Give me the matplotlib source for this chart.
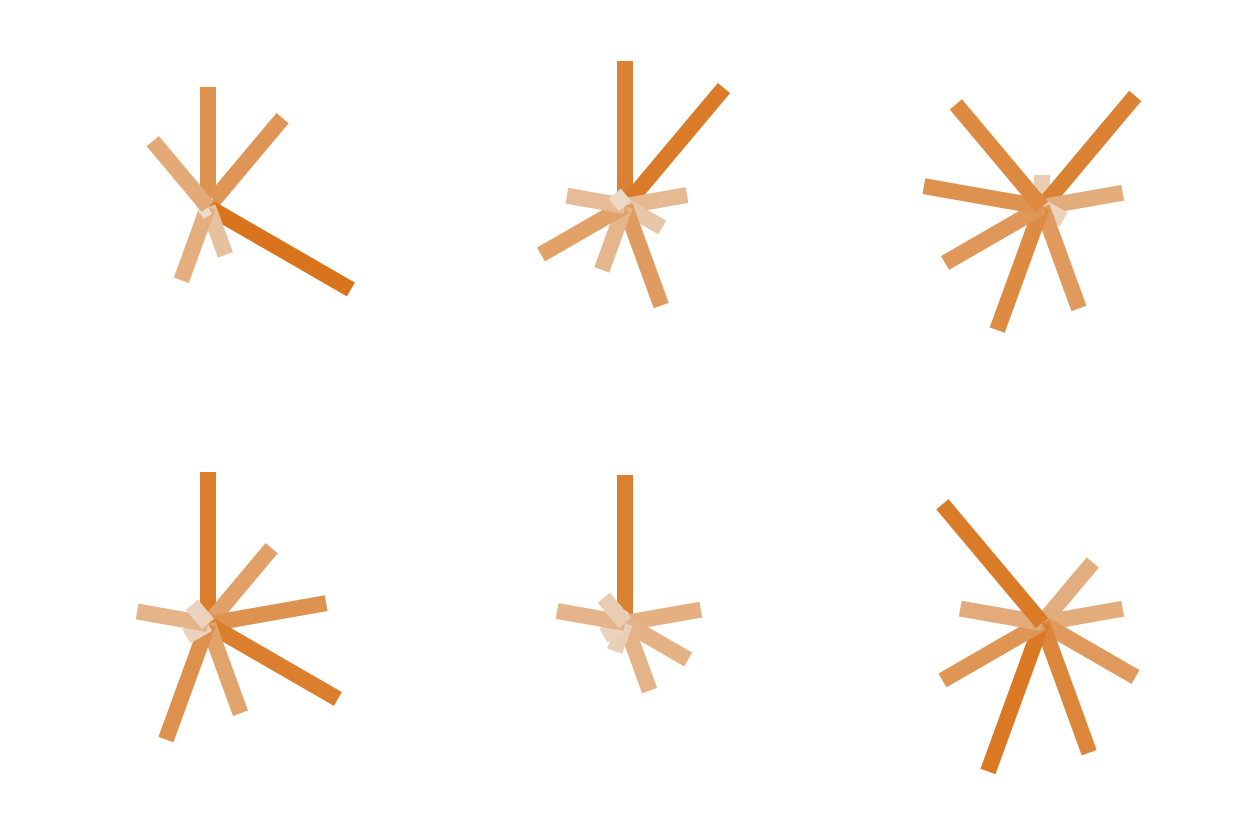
import numpy as np
import matplotlib
matplotlib.use("Agg")
import matplotlib.pyplot as plt
from matplotlib.colors import LinearSegmentedColormap

# spoke directions (degrees, counter-clockwise from east)
angles = [90, 50, 10, -30, -70, -110, -150, 170, 130]

# spoke lengths for each of the six glyphs
glyph_1 = [120, 116, 6, 165, 51, 78, 10, 8, 86]
glyph_2 = [145, 154, 63, 43, 106, 68, 97, 59, 16]
glyph_3 = [32, 145, 82, 25, 108, 131, 112, 120, 134]
glyph_4 = [152, 99, 120, 150, 95, 123, 25, 72, 25]
glyph_5 = [148, 10, 77, 73, 72, 30, 25, 69, 33]
glyph_6 = [5, 79, 82, 108, 138, 158, 115, 83, 155]

glyphs = [glyph_1, glyph_2, glyph_3, glyph_4, glyph_5, glyph_6]
vmax = max(max(g) for g in glyphs)

cmap = LinearSegmentedColormap.from_list("spoke", ["#EDE3D8", "#D9741D"])

W, H = 1235, 823
fig = plt.figure(figsize=(W / 100, H / 100), dpi=100)

centers = [(208, 207), (625, 206), (1042, 207),
           (208, 624), (625, 623), (1042, 623)]
half = 200  # axes half-size in pixels (data units = pixels)

for (cx, cy), lengths in zip(centers, glyphs):
    ax = fig.add_axes([(cx - half) / W, 1 - (cy + half) / H, 2 * half / W, 2 * half / H])
    ax.set_xlim(-half, half)
    ax.set_ylim(-half, half)
    ax.set_aspect("equal")
    ax.axis("off")
    for a, r in zip(angles, lengths):
        t = np.deg2rad(a)
        ax.plot([0, r * np.cos(t)], [0, r * np.sin(t)], color=cmap(r / vmax),
                lw=11.5, solid_capstyle="butt")

fig.savefig("out.png", dpi=100)
